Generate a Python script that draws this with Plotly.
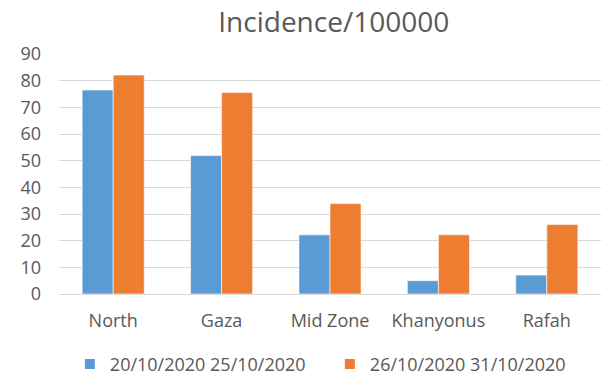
import plotly.graph_objects as go

categories = ["North", "Gaza", "Mid Zone", "Khanyonus", "Rafah"]
series1_name = "20/10/2020 25/10/2020"
series2_name = "26/10/2020 31/10/2020"
series1 = [76.5, 51.9, 22.2, 5.0, 7.1]
series2 = [82.1, 75.6, 33.9, 22.2, 26.1]
y_ticks = [0, 10, 20, 30, 40, 50, 60, 70, 80, 90]

font_family = "'Open Sans', sans-serif"
grey = "#595959"

fig = go.Figure()
fig.add_trace(go.Bar(x=categories, y=series1, name=series1_name,
                     marker=dict(color="#5B9BD5", line=dict(color="#ffffff", width=0.6))))
fig.add_trace(go.Bar(x=categories, y=series2, name=series2_name,
                     marker=dict(color="#ED7D31", line=dict(color="#ffffff", width=0.6))))

fig.update_layout(
    width=608, height=377,
    margin=dict(l=59, r=7, t=54, b=83, autoexpand=False),
    paper_bgcolor="white", plot_bgcolor="white",
    barmode="group", bargap=0.427, bargroupgap=0,
    font=dict(family=font_family, color=grey, size=18),
    title=dict(text="Incidence/100000", x=0.549, xanchor="center", y=0.942, yanchor="middle",
               font=dict(size=28, color=grey, family=font_family)),
    xaxis=dict(showgrid=False, showline=False, ticks="", tickfont=dict(size=18, color=grey),
               ticklabelstandoff=14, automargin=False),
    yaxis=dict(range=[0, 90], tickvals=y_ticks, showgrid=True, gridcolor="#D9D9D9", gridwidth=1.3,
               zeroline=True, zerolinecolor="#D9D9D9", zerolinewidth=1.3,
               ticks="", tickfont=dict(size=18, color=grey), ticklabelstandoff=17, automargin=False),
    legend=dict(orientation="h", x=0.02, xanchor="left", y=-0.37, yanchor="bottom",
                font=dict(size=18, color=grey), itemwidth=30, traceorder="normal",
                entrywidth=215, entrywidthmode="pixels", itemsizing="constant"),
    showlegend=True,
)

fig.write_html("out.html")
